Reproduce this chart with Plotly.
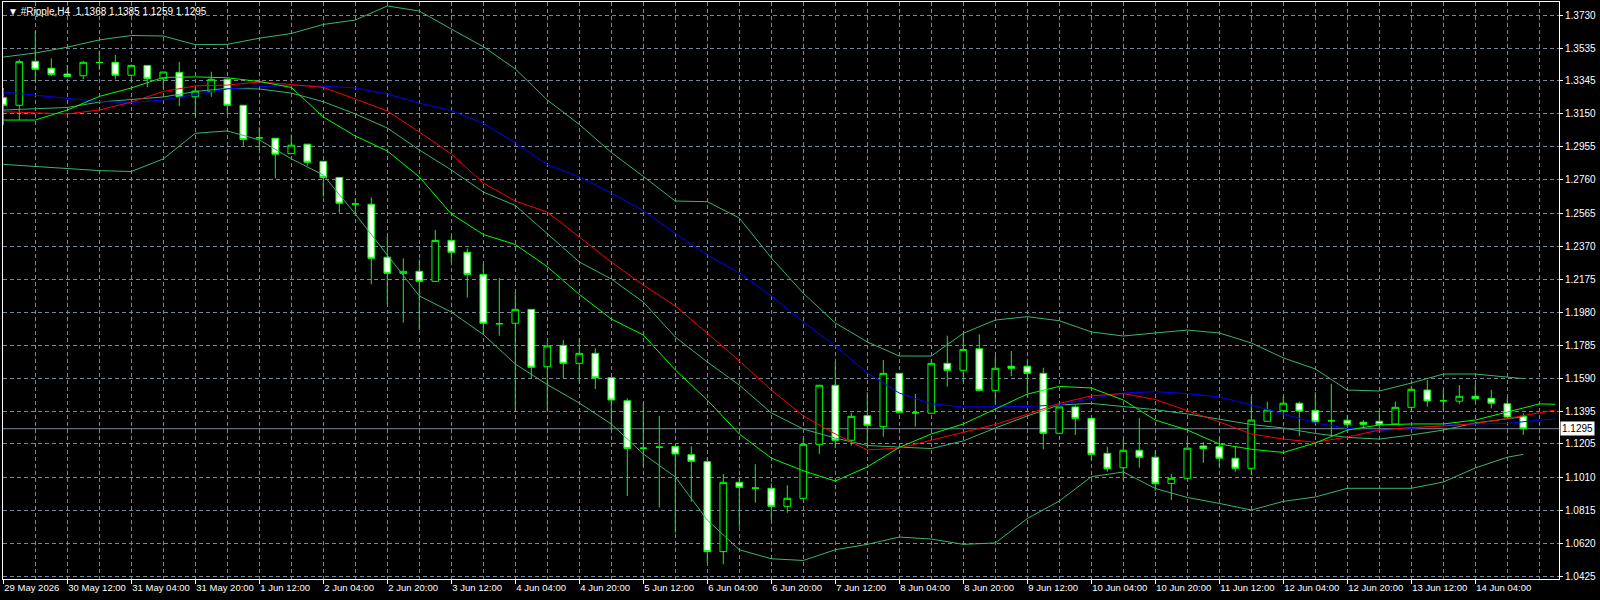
import plotly.graph_objects as go

# ---------------- data ----------------
symbol = "#Ripple,H4"
bars = list(range(96))
opens = [1.3245,1.3200,1.3459,1.3418,1.3384,1.3374,1.3453,1.3453,1.3377,1.3435,
         1.3356,1.3394,1.3250,1.3280,1.3353,1.3200,1.3009,1.3006,1.2915,1.2971,
         1.2870,1.2775,1.2619,1.2617,1.2305,1.2210,1.2222,1.2163,1.2404,1.2334,
         1.2204,1.1914,1.1916,1.1998,1.1660,1.1786,1.1680,1.1739,1.1595,1.1460,
         1.1181,1.1187,1.1191,1.1142,1.1101,1.0571,1.0979,1.0946,1.0944,1.0838,
         1.0885,1.1203,1.1551,1.1227,1.1372,1.1307,1.1621,1.1389,1.1386,1.1680,
         1.1639,1.1766,1.1521,1.1663,1.1663,1.1621,1.1268,1.1423,1.1356,1.1150,
         1.1065,1.1168,1.1127,1.0973,1.1003,1.1193,1.1189,1.1121,1.1062,1.1339,
         1.1401,1.1445,1.1403,1.1342,1.1345,1.1333,1.1339,1.1323,1.1421,1.1523,
         1.1460,1.1457,1.1486,1.1474,1.1442,1.1368]
highs = [1.3302,1.3471,1.3637,1.3477,1.3437,1.3461,1.3521,1.3496,1.3440,1.3437,
         1.3396,1.3455,1.3306,1.3398,1.3359,1.3202,1.3070,1.3007,1.3027,1.2972,
         1.2871,1.2777,1.2652,1.2658,1.2427,1.2299,1.2293,1.2465,1.2430,1.2357,
         1.2265,1.2183,1.2100,1.2000,1.1804,1.1818,1.1827,1.1769,1.1596,1.1474,
         1.1445,1.1370,1.1193,1.1191,1.1127,1.1027,1.1012,1.1086,1.0974,1.0962,
         1.1239,1.1553,1.1688,1.1388,1.1510,1.1700,1.1623,1.1499,1.1690,1.1843,
         1.1857,1.1851,1.1723,1.1753,1.1694,1.1654,1.1423,1.1433,1.1358,1.1189,
         1.1233,1.1358,1.1170,1.1028,1.1228,1.1218,1.1238,1.1189,1.1484,1.1454,
         1.1488,1.1454,1.1510,1.1558,1.1376,1.1346,1.1399,1.1454,1.1547,1.1582,
         1.1523,1.1552,1.1558,1.1523,1.1480,1.1385]
lows = [1.3084,1.3113,1.3339,1.3372,1.3368,1.3353,1.3408,1.3353,1.3334,1.3306,
        1.3300,1.3196,1.3133,1.3250,1.3147,1.2962,1.2937,1.2770,1.2914,1.2844,
        1.2661,1.2567,1.2548,1.2145,1.2029,1.1920,1.1876,1.2162,1.2275,1.2067,
        1.1847,1.1843,1.1395,1.1592,1.1395,1.1592,1.1568,1.1529,1.1287,1.0899,
        1.1072,1.0830,1.0682,1.0865,1.0506,1.0496,1.0718,1.0859,1.0757,1.0800,
        1.0884,1.1146,1.1180,1.1195,1.1180,1.1248,1.1391,1.1307,1.1385,1.1543,
        1.1568,1.1513,1.1445,1.1605,1.1504,1.1174,1.1267,1.1258,1.1111,1.1042,
        1.0993,1.1065,1.0930,1.0875,1.1002,1.1094,1.1072,1.1042,1.1022,1.1338,
        1.1376,1.1252,1.1323,1.1248,1.1298,1.1298,1.1298,1.1322,1.1396,1.1425,
        1.1405,1.1439,1.1454,1.1415,1.1362,1.1259]
closes = [1.3200,1.3457,1.3412,1.3382,1.3370,1.3453,1.3452,1.3377,1.3435,1.3356,
          1.3396,1.3250,1.3284,1.3353,1.3200,1.2999,1.3008,1.2912,1.2965,1.2864,
          1.2775,1.2623,1.2618,1.2299,1.2210,1.2222,1.2163,1.2404,1.2334,1.2204,
          1.1916,1.1913,1.1998,1.1657,1.1782,1.1680,1.1739,1.1595,1.1464,1.1179,
          1.1180,1.1186,1.1146,1.1103,1.0571,1.0979,1.0950,1.0945,1.0838,1.0885,
          1.1203,1.1551,1.1227,1.1368,1.1315,1.1621,1.1392,1.1388,1.1680,1.1639,
          1.1762,1.1521,1.1651,1.1651,1.1621,1.1268,1.1423,1.1356,1.1144,1.1059,
          1.1168,1.1127,1.0971,1.1003,1.1180,1.1177,1.1121,1.1062,1.1346,1.1405,
          1.1445,1.1399,1.1336,1.1341,1.1321,1.1321,1.1319,1.1421,1.1527,1.1458,
          1.1459,1.1486,1.1472,1.1445,1.1364,1.1295]

# Bollinger bands (read at every second bar + last bar)
bb_bars = list(range(0, 95, 2)) + [95]
bb_upper = [1.3484,1.3508,1.3542,1.3585,1.3611,1.3608,1.3557,1.3559,1.3595,1.3623,
            1.3676,1.3702,1.3785,1.3755,1.3649,1.3545,1.3414,1.3231,1.3087,1.2922,
            1.2781,1.2636,1.2632,1.2536,1.2301,1.2093,1.1918,1.1806,1.1723,1.1723,
            1.1857,1.1935,1.1955,1.1931,1.1865,1.1841,1.1859,1.1876,1.1859,1.1800,
            1.1712,1.1647,1.1523,1.1517,1.1564,1.1617,1.1617,1.1597,1.1590]
bb_middle = [1.3172,1.3178,1.3187,1.3219,1.3234,1.3249,1.3281,1.3300,1.3296,1.3272,
             1.3221,1.3149,1.3066,1.2937,1.2819,1.2689,1.2610,1.2442,1.2277,1.2177,
             1.2041,1.1835,1.1688,1.1552,1.1388,1.1293,1.1240,1.1196,1.1186,1.1178,
             1.1223,1.1299,1.1370,1.1435,1.1444,1.1426,1.1407,1.1382,1.1352,1.1320,
             1.1299,1.1267,1.1244,1.1234,1.1258,1.1287,1.1329,1.1355,1.1366]
bb_lower = [1.2852,1.2841,1.2829,1.2815,1.2810,1.2884,1.3035,1.3049,1.2996,1.2885,
            1.2789,1.2560,1.2318,1.2077,1.1982,1.1850,1.1676,1.1555,1.1446,1.1323,
            1.1146,1.1011,1.0757,1.0582,1.0529,1.0519,1.0582,1.0614,1.0657,1.0645,
            1.0614,1.0622,1.0766,1.0869,1.1012,1.1040,1.0943,1.0890,1.0855,1.0816,
            1.0867,1.0893,1.0944,1.0944,1.0944,1.0981,1.1064,1.1127,1.1144]

# Alligator (shifted forward, runs past the last bar)
al_bars = list(range(0, 97, 2)) + [97]
lips = [1.3113,1.3113,1.3172,1.3252,1.3302,1.3364,1.3367,1.3362,1.3340,1.3305,
        1.3131,1.3019,1.2931,1.2778,1.2560,1.2439,1.2380,1.2249,1.2086,1.1941,
        1.1847,1.1641,1.1464,1.1264,1.1122,1.1047,1.0987,1.1070,1.1185,1.1264,
        1.1323,1.1411,1.1499,1.1544,1.1535,1.1464,1.1346,1.1287,1.1205,1.1174,
        1.1155,1.1211,1.1287,1.1317,1.1323,1.1323,1.1346,1.1393,1.1441,1.1439]
teeth = [1.3162,1.3155,1.3149,1.3172,1.3219,1.3281,1.3314,1.3319,1.3337,1.3322,
         1.3305,1.3237,1.3166,1.3043,1.2913,1.2742,1.2636,1.2571,1.2424,1.2277,
         1.2141,1.2018,1.1857,1.1694,1.1523,1.1370,1.1264,1.1170,1.1181,1.1226,
         1.1273,1.1320,1.1380,1.1444,1.1488,1.1502,1.1467,1.1402,1.1335,1.1264,
         1.1234,1.1215,1.1246,1.1287,1.1302,1.1311,1.1325,1.1355,1.1388,1.1405]
jaw = [1.3278,1.3261,1.3241,1.3222,1.3216,1.3231,1.3264,1.3296,1.3309,1.3318,
       1.3312,1.3302,1.3266,1.3213,1.3169,1.3094,1.2978,1.2851,1.2778,1.2683,
       1.2580,1.2445,1.2318,1.2212,1.2077,1.1924,1.1782,1.1623,1.1505,1.1441,
       1.1423,1.1423,1.1426,1.1435,1.1473,1.1505,1.1513,1.1502,1.1482,1.1435,
       1.1382,1.1329,1.1297,1.1285,1.1296,1.1317,1.1323,1.1326,1.1346,1.1352]

# axis ticks
x_tick_bars = list(range(0, 96, 4))
x_tick_labels = ["29 May 2026", "30 May 12:00", "31 May 04:00", "31 May 20:00",
                 "1 Jun 12:00", "2 Jun 04:00", "2 Jun 20:00", "3 Jun 12:00",
                 "4 Jun 04:00", "4 Jun 20:00", "5 Jun 12:00", "6 Jun 04:00",
                 "6 Jun 20:00", "7 Jun 12:00", "8 Jun 04:00", "8 Jun 20:00",
                 "9 Jun 12:00", "10 Jun 04:00", "10 Jun 20:00", "11 Jun 12:00",
                 "12 Jun 04:00", "12 Jun 20:00", "13 Jun 12:00", "14 Jun 04:00"]
y_tick_labels = ["1.3730", "1.3535", "1.3345", "1.3150", "1.2955", "1.2760",
                 "1.2565", "1.2370", "1.2175", "1.1980", "1.1785", "1.1590",
                 "1.1395", "1.1205", "1.1010", "1.0815", "1.0620", "1.0425"]
y_tick_vals = [float(t) for t in y_tick_labels]

# ---------------- styles ----------------
BG = "#000000"
GRID = "#778899"
LIME = "#00ff00"
BAND = "#3cb371"
FONT = "Liberation Sans"

fig = go.Figure()

for ys in (bb_upper, bb_middle, bb_lower):
    fig.add_trace(go.Scatter(x=bb_bars, y=ys, mode="lines",
                             line=dict(color=BAND, width=1), hoverinfo="skip"))
fig.add_trace(go.Scatter(x=al_bars, y=jaw, mode="lines",
                         line=dict(color="#0000ff", width=1), hoverinfo="skip"))
fig.add_trace(go.Scatter(x=al_bars, y=teeth, mode="lines",
                         line=dict(color="#ff0000", width=1), hoverinfo="skip"))
fig.add_trace(go.Scatter(x=al_bars, y=lips, mode="lines",
                         line=dict(color=LIME, width=1), hoverinfo="skip"))

fig.add_trace(go.Candlestick(
    x=bars, open=opens, high=highs, low=lows, close=closes,
    increasing=dict(line=dict(color=LIME, width=1), fillcolor="#000000"),
    decreasing=dict(line=dict(color=LIME, width=1), fillcolor="#ffffff"),
    whiskerwidth=0, hoverinfo="skip"))

last = closes[-1]
fig.add_shape(type="line", xref="paper", x0=0, x1=1, yref="y", y0=last, y1=last,
              line=dict(color=GRID, width=1), layer="below")

fig.add_annotation(xref="paper", x=1, yref="y", y=last, xanchor="left",
                   yanchor="middle", text=f"{last:.4f}", showarrow=False,
                   bgcolor="#ffffff", font=dict(family=FONT, size=10, color="#000000"),
                   borderpad=1, xshift=1)

title = (f"\u25BC {symbol}  {opens[-1]:.4f} {highs[-1]:.4f} "
         f"{lows[-1]:.4f} {closes[-1]:.4f}")
fig.add_annotation(xref="paper", yref="paper", x=0, y=1, xanchor="left",
                   yanchor="top", xshift=3, yshift=-2, text=title, showarrow=False,
                   font=dict(family=FONT, size=10, color="#ffffff"))

fig.update_layout(
    width=1600, height=600,
    margin=dict(l=3, r=41, t=2, b=21),
    paper_bgcolor=BG, plot_bgcolor=BG,
    showlegend=False, boxgap=0.4,
    font=dict(family=FONT, size=10, color="#ffffff"),
    xaxis=dict(range=[-0.019, 97.23], tickvals=x_tick_bars, ticktext=x_tick_labels,
               tickangle=0, ticklabelposition="outside right", ticks="outside",
               ticklen=4, tickcolor="#ffffff", showgrid=True, gridcolor=GRID,
               griddash="4px,3px", gridwidth=1,
               minor=dict(dtick=2, tick0=0, showgrid=True, gridcolor=GRID,
                          griddash="4px,3px", ticks=""),
               showline=True, linecolor="#ffffff", linewidth=1, mirror=True,
               zeroline=False, rangeslider=dict(visible=False),
               tickfont=dict(family=FONT, size=9.5, color="#ffffff")),
    yaxis=dict(range=[1.04098, 1.38083], side="right", tickvals=y_tick_vals,
               ticktext=y_tick_labels, ticks="outside", ticklen=3, tickcolor="#ffffff",
               showgrid=True, gridcolor=GRID, griddash="4px,3px", gridwidth=1,
               showline=True, linecolor="#ffffff", linewidth=1, mirror=True,
               zeroline=False, tickfont=dict(family=FONT, size=10, color="#ffffff")),
)

fig.write_html("out.html")
